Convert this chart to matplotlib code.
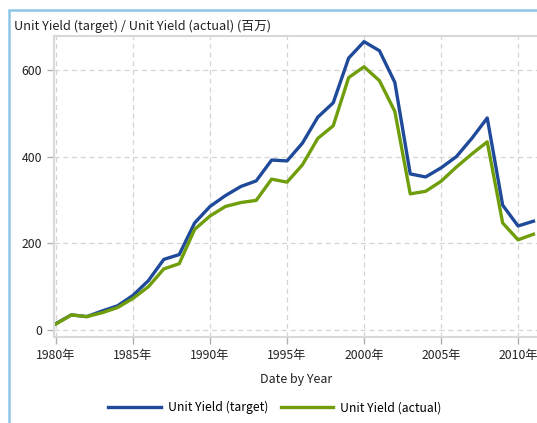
import matplotlib
matplotlib.use("Agg")
import matplotlib.pyplot as plt
from matplotlib.patches import Rectangle

plt.rcParams['font.family'] = ['Noto Sans CJK JP', 'DejaVu Sans']

years = list(range(1980, 2012))
target = [15, 35, 31, 44, 56, 80, 114, 163, 174, 247, 285, 310, 331, 344, 392, 390,
          431, 491, 524, 627, 665, 644, 571, 360, 353, 374, 400, 442, 489, 288, 240, 251]
actual = [14, 35, 31, 40, 52, 73, 100, 141, 153, 232, 263, 285, 294, 299, 348, 341,
          381, 442, 471, 582, 607, 575, 504, 314, 320, 343, 376, 406, 434, 247, 208, 221]
xticks = [1980, 1985, 1990, 1995, 2000, 2005, 2010]
yticks = [0, 200, 400, 600]

W, H = 537, 423
fig = plt.figure(figsize=(W / 100, H / 100), dpi=100)
ax = fig.add_axes([54 / W, 1 - 337 / H, (539 - 54) / W, (337 - 36) / H])

blue = '#1f4a9a'
green = '#6f9e0a'
ax.plot(years, target, color=blue, lw=2.4, label='Unit Yield (target)', solid_joinstyle='round')
ax.plot(years, actual, color=green, lw=2.4, label='Unit Yield (actual)', solid_joinstyle='round')

ax.set_xlim(1979.87, 2011.36)
ax.set_ylim(-16, 678)
ax.set_xticks(xticks)
ax.set_xticklabels([f'{y}年' for y in xticks])
ax.set_yticks(yticks)
ax.grid(True, color='#d4d4d4', ls=(0, (4, 3)), lw=0.9)
ax.set_axisbelow(True)
for s in ax.spines.values():
    s.set_color('#d8d8d8')
    s.set_linewidth(1.5)
ax.tick_params(colors='#b0b0b0', labelcolor='#222222', labelsize=8.8, length=5, width=1)
ax.set_xlabel('Date by Year', fontsize=9, color='#222222', labelpad=8)

fig.text(14 / W, 1 - 26 / H, 'Unit Yield (target) / Unit Yield (actual) (百万)',
         fontsize=9.2, color='#222222', va='center', ha='left')

ax.legend(loc='center', bbox_to_anchor=((275 - 54) / (539 - 54), -0.235), ncol=2, frameon=False,
          fontsize=8.8, handlelength=4.3, columnspacing=1.0, handletextpad=0.6)

# thin blue frame around the panel
fig.add_artist(Rectangle((8.5 / W, -0.1), 1.2, 1 - 10 / H + 0.1, transform=fig.transFigure,
                         fill=False, ec='#8cc6e6', lw=1.8))

fig.savefig('out.png', dpi=100)
